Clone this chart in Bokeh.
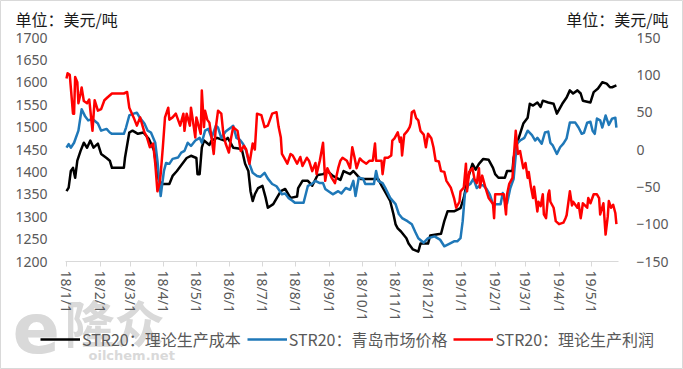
import pandas as pd
from bokeh.plotting import figure
from bokeh.models import (Range1d, LinearAxis, FixedTicker, CustomJSTickFormatter,
                          Label, Legend, LegendItem)
from bokeh.embed import file_html
from bokeh.resources import INLINE

# ---------------- data ----------------
unit_text = "单位：美元/吨"
series_names = ["STR20：理论生产成本", "STR20：青岛市场价格", "STR20：理论生产利润"]
month_ticks = ["2018-01-01", "2018-02-01", "2018-03-01", "2018-04-01", "2018-05-01", "2018-06-01",
               "2018-07-01", "2018-08-01", "2018-09-01", "2018-10-01", "2018-11-01", "2018-12-01",
               "2019-01-01", "2019-02-01", "2019-03-01", "2019-04-01", "2019-05-01"]
left_ticks = [1200, 1250, 1300, 1350, 1400, 1450, 1500, 1550, 1600, 1650, 1700]
right_ticks = [-150, -100, -50, 0, 50, 100, 150]

cost_dates = ["2018-01-01","2018-01-03","2018-01-05","2018-01-07","2018-01-09","2018-01-11","2018-01-14","2018-01-17","2018-01-20","2018-01-23","2018-01-26","2018-01-30","2018-02-02","2018-02-07","2018-02-10","2018-02-12","2018-02-23","2018-02-24","2018-02-28","2018-03-03","2018-03-08","2018-03-13","2018-03-18","2018-03-23","2018-03-25","2018-03-27","2018-03-30","2018-04-06","2018-04-09","2018-04-13","2018-04-18","2018-04-22","2018-04-26","2018-05-01","2018-05-02","2018-05-04","2018-05-06","2018-05-08","2018-05-13","2018-05-15","2018-05-20","2018-05-27","2018-05-30","2018-06-04","2018-06-09","2018-06-12","2018-06-15","2018-06-18","2018-06-20","2018-06-22","2018-06-24","2018-06-27","2018-07-01","2018-07-04","2018-07-06","2018-07-11","2018-07-15","2018-07-18","2018-07-22","2018-07-25","2018-07-27","2018-08-02","2018-08-03","2018-08-07","2018-08-12","2018-08-16","2018-08-21","2018-08-26","2018-08-30","2018-09-04","2018-09-11","2018-09-14","2018-09-20","2018-09-23","2018-09-27","2018-09-30","2018-10-16","2018-10-19","2018-10-22","2018-10-27","2018-10-30","2018-11-01","2018-11-03","2018-11-06","2018-11-11","2018-11-13","2018-11-17","2018-11-22","2018-11-24","2018-12-01","2018-12-03","2018-12-10","2018-12-13","2018-12-16","2018-12-19","2018-12-25","2018-12-31","2019-01-03","2019-01-05","2019-01-07","2019-01-11","2019-01-14","2019-01-17","2019-01-21","2019-01-26","2019-01-30","2019-02-01","2019-02-04","2019-02-10","2019-02-12","2019-02-17","2019-02-18","2019-02-22","2019-02-27","2019-03-03","2019-03-05","2019-03-08","2019-03-12","2019-03-15","2019-03-17","2019-03-22","2019-03-27","2019-03-30","2019-04-04","2019-04-08","2019-04-11","2019-04-14","2019-04-18","2019-04-21","2019-04-23","2019-04-30","2019-05-03","2019-05-07","2019-05-11","2019-05-15","2019-05-18","2019-05-20","2019-05-24"]
cost_values = [1357,1365,1402,1409,1387,1425,1447,1465,1454,1470,1454,1463,1440,1431,1425,1409,1409,1431,1488,1492,1485,1488,1474,1447,1410,1384,1373,1373,1391,1402,1418,1431,1436,1431,1395,1395,1454,1470,1460,1470,1476,1470,1476,1454,1452,1450,1418,1402,1357,1335,1350,1364,1369,1342,1320,1328,1345,1357,1362,1350,1342,1345,1364,1380,1380,1369,1393,1395,1402,1391,1382,1402,1395,1402,1391,1384,1384,1370,1357,1335,1306,1283,1274,1267,1252,1240,1227,1222,1240,1240,1258,1261,1262,1290,1312,1312,1319,1342,1365,1387,1418,1405,1418,1429,1427,1409,1395,1387,1387,1402,1402,1431,1470,1508,1521,1552,1548,1555,1545,1559,1555,1552,1530,1552,1566,1582,1575,1582,1575,1559,1555,1578,1586,1600,1597,1589,1589,1593]

price_dates = ["2018-01-01","2018-01-03","2018-01-05","2018-01-08","2018-01-12","2018-01-15","2018-01-18","2018-01-21","2018-01-25","2018-01-30","2018-02-02","2018-02-07","2018-02-10","2018-02-12","2018-02-23","2018-02-25","2018-02-28","2018-03-04","2018-03-07","2018-03-10","2018-03-14","2018-03-17","2018-03-20","2018-03-24","2018-03-26","2018-03-29","2018-04-01","2018-04-03","2018-04-06","2018-04-09","2018-04-14","2018-04-17","2018-04-20","2018-04-23","2018-04-26","2018-04-30","2018-05-04","2018-05-06","2018-05-09","2018-05-12","2018-05-15","2018-05-19","2018-05-21","2018-05-24","2018-05-28","2018-06-02","2018-06-04","2018-06-07","2018-06-10","2018-06-13","2018-06-16","2018-06-19","2018-06-22","2018-06-26","2018-06-29","2018-07-03","2018-07-06","2018-07-10","2018-07-14","2018-07-19","2018-07-22","2018-07-25","2018-07-29","2018-07-31","2018-08-08","2018-08-12","2018-08-15","2018-08-19","2018-08-23","2018-08-26","2018-08-28","2018-09-04","2018-09-09","2018-09-12","2018-09-16","2018-09-20","2018-09-23","2018-09-25","2018-09-28","2018-10-02","2018-10-04","2018-10-12","2018-10-14","2018-10-16","2018-10-20","2018-10-23","2018-10-27","2018-11-01","2018-11-04","2018-11-07","2018-11-12","2018-11-16","2018-11-19","2018-11-22","2018-11-27","2018-12-01","2018-12-07","2018-12-12","2018-12-16","2018-12-21","2018-12-25","2018-12-28","2018-12-31","2019-01-02","2019-01-04","2019-01-07","2019-01-09","2019-01-12","2019-01-15","2019-01-18","2019-01-21","2019-01-24","2019-01-27","2019-01-30","2019-02-06","2019-02-08","2019-02-10","2019-02-12","2019-02-15","2019-02-18","2019-02-21","2019-02-24","2019-02-28","2019-03-03","2019-03-07","2019-03-10","2019-03-12","2019-03-16","2019-03-19","2019-03-22","2019-03-24","2019-03-26","2019-03-30","2019-04-02","2019-04-05","2019-04-08","2019-04-11","2019-04-16","2019-04-19","2019-04-22","2019-04-24","2019-04-27","2019-04-30","2019-05-02","2019-05-04","2019-05-06","2019-05-09","2019-05-11","2019-05-14","2019-05-17","2019-05-20","2019-05-23","2019-05-24"]
price_values = [1454,1462,1454,1465,1492,1540,1525,1515,1518,1508,1492,1496,1488,1485,1485,1499,1526,1530,1532,1520,1508,1492,1488,1465,1425,1346,1402,1420,1418,1429,1432,1443,1447,1465,1458,1470,1476,1465,1492,1496,1476,1503,1499,1476,1490,1499,1503,1476,1472,1463,1447,1418,1398,1391,1389,1398,1385,1373,1368,1350,1352,1342,1335,1331,1331,1369,1372,1380,1375,1375,1362,1350,1357,1352,1364,1360,1380,1346,1387,1385,1373,1373,1402,1380,1375,1362,1342,1328,1306,1297,1290,1283,1267,1252,1242,1252,1256,1249,1234,1240,1245,1245,1252,1290,1350,1370,1373,1385,1364,1370,1370,1362,1350,1328,1328,1353,1335,1330,1364,1384,1463,1470,1476,1492,1482,1470,1476,1463,1488,1490,1465,1460,1440,1455,1463,1475,1510,1510,1499,1485,1487,1510,1512,1492,1485,1519,1515,1499,1526,1505,1519,1521,1499]

profit_dates = ["2018-01-01","2018-01-02","2018-01-04","2018-01-05","2018-01-07","2018-01-08","2018-01-09","2018-01-11","2018-01-12","2018-01-14","2018-01-15","2018-01-17","2018-01-20","2018-01-22","2018-01-25","2018-01-27","2018-01-30","2018-02-02","2018-02-05","2018-02-08","2018-02-12","2018-02-23","2018-02-26","2018-02-28","2018-03-04","2018-03-07","2018-03-10","2018-03-14","2018-03-16","2018-03-19","2018-03-22","2018-03-24","2018-03-26","2018-03-28","2018-03-29","2018-03-31","2018-04-02","2018-04-05","2018-04-06","2018-04-09","2018-04-12","2018-04-16","2018-04-19","2018-04-20","2018-04-22","2018-04-25","2018-04-26","2018-04-30","2018-05-01","2018-05-05","2018-05-06","2018-05-08","2018-05-09","2018-05-11","2018-05-13","2018-05-15","2018-05-17","2018-05-19","2018-05-21","2018-05-24","2018-05-26","2018-05-28","2018-05-31","2018-06-02","2018-06-04","2018-06-08","2018-06-11","2018-06-14","2018-06-16","2018-06-19","2018-06-22","2018-06-24","2018-06-26","2018-06-30","2018-07-03","2018-07-06","2018-07-08","2018-07-10","2018-07-14","2018-07-16","2018-07-18","2018-07-19","2018-07-21","2018-07-24","2018-07-27","2018-07-29","2018-08-02","2018-08-05","2018-08-07","2018-08-11","2018-08-13","2018-08-16","2018-08-19","2018-08-20","2018-08-23","2018-08-26","2018-08-28","2018-08-30","2018-09-03","2018-09-06","2018-09-09","2018-09-11","2018-09-13","2018-09-17","2018-09-20","2018-09-22","2018-09-24","2018-09-26","2018-09-29","2018-10-01","2018-10-05","2018-10-08","2018-10-11","2018-10-13","2018-10-14","2018-10-19","2018-10-20","2018-10-22","2018-10-25","2018-10-28","2018-10-29","2018-10-31","2018-11-03","2018-11-05","2018-11-06","2018-11-07","2018-11-09","2018-11-12","2018-11-14","2018-11-15","2018-11-16","2018-11-18","2018-11-20","2018-11-22","2018-11-24","2018-11-27","2018-11-29","2018-12-01","2018-12-04","2018-12-06","2018-12-08","2018-12-11","2018-12-13","2018-12-16","2018-12-18","2018-12-22","2018-12-25","2018-12-27","2018-12-30","2018-12-31","2019-01-03","2019-01-05","2019-01-06","2019-01-08","2019-01-11","2019-01-13","2019-01-15","2019-01-17","2019-01-18","2019-01-20","2019-01-23","2019-01-26","2019-01-30","2019-01-31","2019-02-01","2019-02-09","2019-02-11","2019-02-12","2019-02-14","2019-02-17","2019-02-18","2019-02-20","2019-02-22","2019-02-24","2019-02-25","2019-02-27","2019-03-01","2019-03-03","2019-03-04","2019-03-06","2019-03-08","2019-03-09","2019-03-12","2019-03-13","2019-03-15","2019-03-17","2019-03-18","2019-03-20","2019-03-22","2019-03-23","2019-03-24","2019-03-27","2019-03-29","2019-04-01","2019-04-05","2019-04-07","2019-04-08","2019-04-11","2019-04-13","2019-04-14","2019-04-18","2019-04-19","2019-04-21","2019-04-22","2019-04-23","2019-04-27","2019-04-28","2019-04-30","2019-05-03","2019-05-06","2019-05-08","2019-05-09","2019-05-12","2019-05-14","2019-05-16","2019-05-17","2019-05-19","2019-05-21","2019-05-23","2019-05-24"]
profit_values = [95,102,100,83,48,48,97,90,62,75,83,65,62,67,25,66,52,54,66,70,75,75,77,56,43,32,43,23,18,3,8,-19,-56,-45,-33,3,43,56,40,43,48,32,48,25,48,32,56,16,43,21,79,30,52,40,36,16,-6,30,52,48,20,8,-4,15,30,25,-2,5,0,-19,8,0,48,46,30,32,40,48,50,30,16,-6,-11,-19,-6,-8,-19,-10,-22,-11,-15,-29,-18,-33,-15,9,-42,-25,-38,-45,-25,-15,-11,-15,-25,3,-10,-25,-12,-15,-19,-15,-15,8,-15,-15,-33,-11,-11,-8,12,15,23,10,16,-8,20,25,30,35,50,52,42,39,25,20,3,21,15,3,-15,-16,-29,-30,-42,-51,-65,-78,-70,-56,-51,-19,-56,-30,-25,-40,-45,-25,-51,-35,-51,-65,-73,-92,-60,-60,-87,-60,-46,-38,-15,25,-6,-2,-10,-25,-18,-38,-30,-50,-65,-50,-83,-70,-76,-60,-87,-92,-60,-55,-70,-78,-96,-100,-98,-92,-88,-56,-75,-70,-78,-72,-92,-83,-72,-78,-65,-72,-60,-60,-65,-87,-72,-114,-90,-69,-78,-74,-85,-100]

series_colors = ["#000000", "#1F78B8", "#FF0000"]

# ---------------- layout geometry (pixels inside the canvas) ----------------
W, H = 683, 369
FL, FR, FT, FB = 65, 618, 37, 261          # plot-area box
X0_PX = 66                                   # pixel of 2018-01-01
PX_PER_DAY = 1.0825
t0 = pd.Timestamp("2018-01-01")

def px_to_ms(px):
    return (t0 + pd.Timedelta(days=(px - X0_PX) / PX_PER_DAY)).value / 1e6

LMIN, LMAX = left_ticks[0], left_ticks[-1]
RMIN, RMAX = right_ticks[0], right_ticks[-1]
lk = (LMAX - LMIN) / (FB - FT)
rk = (RMAX - RMIN) / (FB - FT)

TICK_GRAY = "#595959"
CJK = "Noto Sans CJK SC"

p = figure(width=W, height=H, x_axis_type="datetime", output_backend="svg",
           toolbar_location=None,
           x_range=Range1d(px_to_ms(0), px_to_ms(W)),
           y_range=Range1d(LMIN - (H - FB) * lk, LMAX + FT * lk),
           min_border=0, min_border_left=0, min_border_right=0,
           min_border_top=0, min_border_bottom=0)
p.title.visible = False
p.extra_y_ranges = {"profit": Range1d(RMIN - (H - FB) * rk, RMAX + FT * rk)}
p.outline_line_color = "#d9d9d9"
p.xgrid.visible = False
p.ygrid.visible = False
p.background_fill_color = "white"
p.border_fill_color = "white"

r_cost = p.line(pd.to_datetime(cost_dates), cost_values, line_color=series_colors[0],
                line_width=2.5, line_join="round")
r_price = p.line(pd.to_datetime(price_dates), price_values, line_color=series_colors[1],
                 line_width=2.5, line_join="round")
r_profit = p.line(pd.to_datetime(profit_dates), profit_values, line_color=series_colors[2],
                  line_width=2.5, line_join="round", y_range_name="profit")

# x axis
xa = p.xaxis[0]
xa.fixed_location = LMIN
xa.bounds = (px_to_ms(FL), px_to_ms(FR))
xa.ticker = FixedTicker(ticks=[pd.Timestamp(s).value / 1e6 for s in month_ticks])
xa.formatter = CustomJSTickFormatter(code="""
const d = new Date(tick);
return (d.getUTCFullYear() % 100) + "/" + (d.getUTCMonth() + 1) + "/" + d.getUTCDate();
""")
xa.major_label_orientation = "vertical"
xa.axis_line_color = "#d9d9d9"
xa.axis_line_width = 1
xa.major_tick_line_color = "#d9d9d9"
xa.major_tick_out = 5
xa.major_tick_in = 0
xa.minor_tick_out = 0
xa.minor_tick_in = 0
xa.major_label_standoff = 4
xa.major_label_text_font = "Noto Sans"
xa.major_label_text_font_size = "14px"
xa.major_label_text_color = TICK_GRAY

# left axis
ya = p.yaxis[0]
ya.fixed_location = px_to_ms(FL)
ya.ticker = FixedTicker(ticks=left_ticks)
ya.axis_line_color = None
ya.major_tick_line_color = None
ya.minor_tick_line_color = None
ya.major_tick_out = 0
ya.major_tick_in = 0
ya.minor_tick_out = 0
ya.minor_tick_in = 0
ya.major_label_standoff = 18
ya.major_label_text_font = "Noto Sans"
ya.major_label_text_font_size = "14px"
ya.major_label_text_color = TICK_GRAY

# right axis
ra = LinearAxis(y_range_name="profit", ticker=FixedTicker(ticks=right_ticks),
                fixed_location=px_to_ms(FR))
ra.axis_line_color = None
ra.major_tick_line_color = None
ra.minor_tick_line_color = None
ra.major_tick_out = 0
ra.major_tick_in = 0
ra.minor_tick_out = 0
ra.minor_tick_in = 0
ra.major_label_standoff = 18
ra.major_label_text_font = "Noto Sans"
ra.major_label_text_font_size = "14px"
ra.major_label_text_color = TICK_GRAY
p.add_layout(ra, "right")

# unit labels (screen units: from canvas bottom-left)
for xx, al in [(15, "left"), (668, "right")]:
    p.add_layout(Label(x=xx, y=H - 18, x_units="screen", y_units="screen", text=unit_text,
                       text_align=al, text_baseline="middle", text_font=CJK,
                       text_font_size="16px", text_color="#1a1a1a"))

# watermark
wm = "#d9d9d9"
p.add_layout(Label(x=12, y=H - 327, x_units="screen", y_units="screen", text="e",
                   text_font="DejaVu Sans", text_font_style="bold", text_font_size="70px",
                   text_color=wm, text_baseline="middle", level="underlay"))
p.add_layout(Label(x=64, y=H - 320, x_units="screen", y_units="screen", text="隆众",
                   text_font=CJK, text_font_style="bold", text_font_size="50px",
                   text_color=wm, text_baseline="middle", level="underlay"))
p.add_layout(Label(x=88, y=H - 355, x_units="screen", y_units="screen", text="oilchem.net",
                   text_font="DejaVu Sans", text_font_style="bold", text_font_size="13px",
                   text_color=wm, text_baseline="middle", level="underlay"))

legend = Legend(items=[LegendItem(label=series_names[0], renderers=[r_cost]),
                       LegendItem(label=series_names[1], renderers=[r_price]),
                       LegendItem(label=series_names[2], renderers=[r_profit])],
                orientation="horizontal", location=(40, 18),
                glyph_width=40, glyph_height=18, label_standoff=2, spacing=6,
                padding=0, margin=0, border_line_color=None, background_fill_alpha=0,
                label_text_font=CJK, label_text_font_size="16px",
                label_text_color=TICK_GRAY, label_text_baseline="middle")
p.add_layout(legend)

open("out.html", "w").write(file_html(p, INLINE))
